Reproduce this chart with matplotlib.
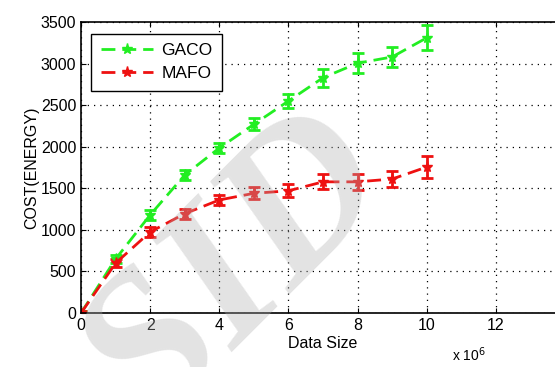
import numpy as np
from matplotlib import pyplot as plt
from matplotlib.lines import Line2D

plt.rcParams['font.family'] = ['Liberation Sans', 'DejaVu Sans']

data_size = [0, 1, 2, 3, 4, 5, 6, 7, 8, 9, 10]
gaco = [0, 650, 1180, 1660, 1985, 2270, 2550, 2830, 3005, 3080, 3310]
gaco_err = [20, 50, 60, 60, 60, 70, 80, 110, 120, 125, 150]
mafo = [0, 600, 975, 1195, 1360, 1440, 1470, 1578, 1578, 1612, 1756]
mafo_err = [20, 50, 60, 60, 60, 70, 80, 90, 95, 100, 130]

green = '#22ee22'
red = '#ee1111'

fig = plt.figure(figsize=(5.55, 3.67), dpi=100)
ax = fig.add_axes([0.146, 0.147, 0.872, 0.793])

ax.errorbar(data_size, gaco, yerr=gaco_err, color=green, linestyle='--',
            linewidth=2, marker='*', markersize=8, capsize=4, elinewidth=2,
            capthick=2, dashes=(5, 2.5))
ax.errorbar(data_size, mafo, yerr=mafo_err, color=red, linestyle='--',
            linewidth=2, marker='*', markersize=8, capsize=4, elinewidth=2,
            capthick=2, dashes=(5, 2.5))

ax.set_xlim(0, 14)
ax.set_ylim(0, 3500)
ax.set_xticks(range(0, 14, 2))
ax.set_yticks(range(0, 3501, 500))
ax.grid(True, color='black', linestyle=(0, (1, 4)), linewidth=0.9)
ax.tick_params(direction='in', labelsize=11.5, top=True, right=False)
ax.spines['right'].set_visible(False)
for s in ax.spines.values():
    s.set_linewidth(1.2)

ax.set_xlabel('Data Size', fontsize=11.5, labelpad=2)
ax.set_ylabel('COST(ENERGY)', fontsize=11.5, labelpad=1)
fig.text(0.815, 0.015, r'x 10$^6$', fontsize=10)

handles = [Line2D([], [], color=green, linestyle='--', linewidth=2, marker='*',
                  markersize=8, dashes=(5, 2.5)),
           Line2D([], [], color=red, linestyle='--', linewidth=2, marker='*',
                  markersize=8, dashes=(5, 2.5))]
leg = ax.legend(handles, ['GACO', 'MAFO'], loc='upper left', fontsize=12.5,
                fancybox=False, framealpha=1, edgecolor='black',
                handlelength=3.0, handletextpad=0.5, borderpad=0.55,
                labelspacing=0.45, bbox_to_anchor=(0.003, 0.99))
leg.get_frame().set_linewidth(1)

# pale watermark over the plot
fig.text(0.43, 0.26, 'SID', rotation=45, fontsize=150, family='Liberation Serif',
         style='italic', fontweight='bold', color='#b0b0b0', alpha=0.35,
         ha='center', va='center', zorder=20)

fig.savefig('out.png', dpi=100)
